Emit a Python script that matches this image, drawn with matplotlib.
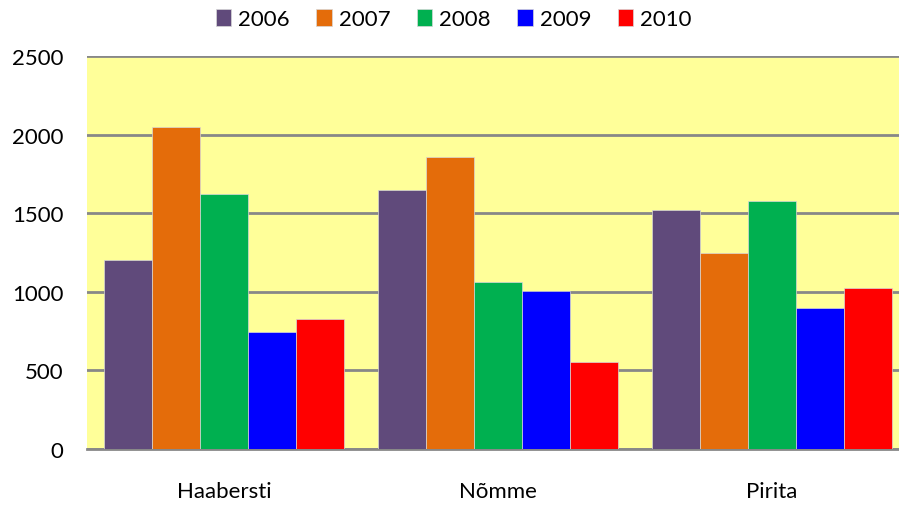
import numpy as np
import matplotlib.pyplot as plt

# Data
districts = ['Haabersti', 'Nõmme', 'Pirita']
years = ['2006', '2007', '2008', '2009', '2010']
v2006 = [1200, 1650, 1520]
v2007 = [2050, 1860, 1250]
v2008 = [1620, 1065, 1580]
v2009 = [745, 1005, 900]
v2010 = [830, 555, 1025]
colors = ['#604A7B', '#E46C0A', '#00B050', '#0000FF', '#FF0000']

plt.rcParams['font.family'] = ['Lato', 'DejaVu Sans']

fig = plt.figure(figsize=(8.99, 5.06), dpi=100)
ax = fig.add_axes([87 / 899, (506 - 450) / 506, (909 - 87) / 899, (450 - 57) / 506])
ax.set_facecolor('#FFFF99')

x = np.arange(len(districts))
w = 0.175
series = [v2006, v2007, v2008, v2009, v2010]
for i, (vals, c, yr) in enumerate(zip(series, colors, years)):
    ax.bar(x + (i - 2) * w, vals, w, color=c, edgecolor='#d8d8d8', linewidth=0.5,
           label=yr, zorder=3)

ax.set_xlim(-0.5, 2.5)
ax.set_ylim(0, 2500)
ax.set_yticks(range(0, 2501, 500))
ax.set_xticks(x)
ax.set_xticklabels(districts)
ax.grid(axis='y', color='#888888', linewidth=2, zorder=1)
for s in ['top', 'right', 'left']:
    ax.spines[s].set_visible(False)
ax.spines['bottom'].set_color('#888888')
ax.spines['bottom'].set_linewidth(2)
ax.tick_params(length=0, labelsize=16)
ax.tick_params(axis='y', pad=17)
ax.tick_params(axis='x', pad=23)

ax.legend(loc='center', bbox_to_anchor=(0.5 * 899 / 822 - 87 / 822 + 0.005, 1.0 + 37 / 393),
          ncol=5, frameon=False, fontsize=16, handlelength=0.7, handleheight=0.8,
          handletextpad=0.3, columnspacing=1.2)

fig.savefig('out.png', dpi=100)
